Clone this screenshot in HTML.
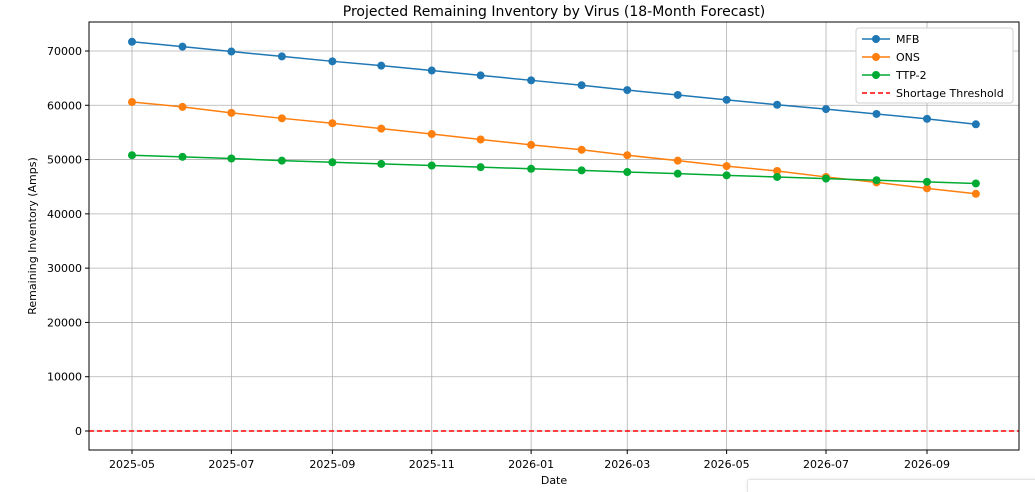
<!DOCTYPE html>
<html><head><meta charset="utf-8"><style>
html,body{margin:0;width:1035px;height:491px;overflow:hidden;background:#fff;font-family:"Liberation Sans","DejaVu Sans",sans-serif;}
svg{display:block;}
svg text{font-family:"DejaVu Sans","Liberation Sans",sans-serif;}
</style></head><body>
<svg id="c" width="1035" height="491"></svg>
<div style="position:absolute;left:747px;top:479px;width:290px;height:12px;background:#fff;border:1px solid #e4e4e4;border-bottom:none;border-radius:3px 0 0 0;box-shadow:0 0 4px rgba(0,0,0,0.08)"></div>
<script>
const months=["2025-05","2025-06","2025-07","2025-08","2025-09","2025-10","2025-11","2025-12","2026-01","2026-02","2026-03","2026-04","2026-05","2026-06","2026-07","2026-08","2026-09","2026-10"];
const mfb=[71700,70800,69900,69000,68100,67300,66400,65500,64600,63700,62800,61900,61000,60100,59300,58400,57500,56500];
const ons=[60600,59700,58600,57600,56700,55700,54700,53700,52700,51800,50800,49800,48800,47900,46800,45800,44700,43700];
const ttp=[50800,50500,50200,49800,49500,49200,48900,48600,48300,48000,47700,47400,47100,46800,46500,46200,45900,45600];
const xTicks=["2025-05","2025-07","2025-09","2025-11","2026-01","2026-03","2026-05","2026-07","2026-09"];
const yTicks=[0,10000,20000,30000,40000,50000,60000,70000];
const threshold=0;
const svg=document.getElementById('c');const NS="http://www.w3.org/2000/svg";
function mk(t,a,p){const e=document.createElementNS(NS,t);for(const k in a)e.setAttribute(k,a[k]);(p||svg).appendChild(e);return e;}
const L=89,R=1019,T=22,B=450;
const d0=Date.UTC(2025,4,1);
function day(s){const [y,m]=s.split('-').map(Number);return (Date.UTC(y,m-1,1)-d0)/86400000;}
const X=s=>132+day(s)*(795/488);
const Y=v=>431-v*(380/70000);
for(const t of xTicks){const x=X(t);
const g=mk('line',{x1:x,x2:x,y1:T,y2:B,stroke:'#b0b0b0','stroke-width':0.8});
mk('line',{x1:x,x2:x,y1:B,y2:B+4,stroke:'#000'});
const tx=mk('text',{x:x,y:B+18,'text-anchor':'middle','font-size':11});tx.textContent=t;}
for(const v of yTicks){const y=Y(v);
const g=mk('line',{x1:L,x2:R,y1:y,y2:y,stroke:'#b0b0b0','stroke-width':0.8});
mk('line',{x1:L-4,x2:L,y1:y,y2:y,stroke:'#000'});
const tx=mk('text',{x:L-7,y:y+4,'text-anchor':'end','font-size':11});tx.textContent=v;}
const th=mk('line',{x1:L,x2:R,y1:Y(threshold),y2:Y(threshold),stroke:'#ff0000','stroke-width':1.5,'stroke-dasharray':'5,3'});

const series=[["mfb",mfb,"#1f77b4"],["ons",ons,"#ff7f0e"],["ttp-2",ttp,"#00aa33"]];
for(const [n,vals,c] of series){
const p=mk('polyline',{points:vals.map((v,i)=>X(months[i])+','+Y(v)).join(' '),fill:'none',stroke:c,'stroke-width':1.5});

vals.forEach((v,i)=>{const m=mk('circle',{cx:X(months[i]),cy:Y(v),r:4,fill:c});});}
mk('rect',{x:L,y:T,width:R-L,height:B-T,fill:'none',stroke:'#000','stroke-width':1});
const ti=mk('text',{x:554,y:16,'text-anchor':'middle','font-size':14});ti.textContent='Projected Remaining Inventory by Virus (18-Month Forecast)';
const xl=mk('text',{x:554,y:484,'text-anchor':'middle','font-size':11});xl.textContent='Date';
const yl=mk('text',{x:36,y:236,'text-anchor':'middle','font-size':11,transform:'rotate(-90 36 236)'});yl.textContent='Remaining Inventory (Amps)';
const lg=mk('g',{});
mk('rect',{x:856,y:28,width:157,height:75,fill:'#fff',stroke:'#d0d0d0',rx:3},lg);
const items=[["MFB","#1f77b4",0],["ONS","#ff7f0e",0],["TTP-2","#00aa33",0],["Shortage Threshold","#ff0000",1]];
items.forEach(([lab,c,d],i)=>{const y=39+i*18;
const g=mk('g',{},lg);
mk('line',{x1:862,x2:890,y1:y,y2:y,stroke:c,'stroke-width':1.5,'stroke-dasharray':d?'5,3':'none'},g);
if(!d)mk('circle',{cx:876,cy:y,r:4,fill:c},g);
const t=mk('text',{x:896,y:y+4,'font-size':11},g);t.textContent=lab;});
</script>
</body></html>
